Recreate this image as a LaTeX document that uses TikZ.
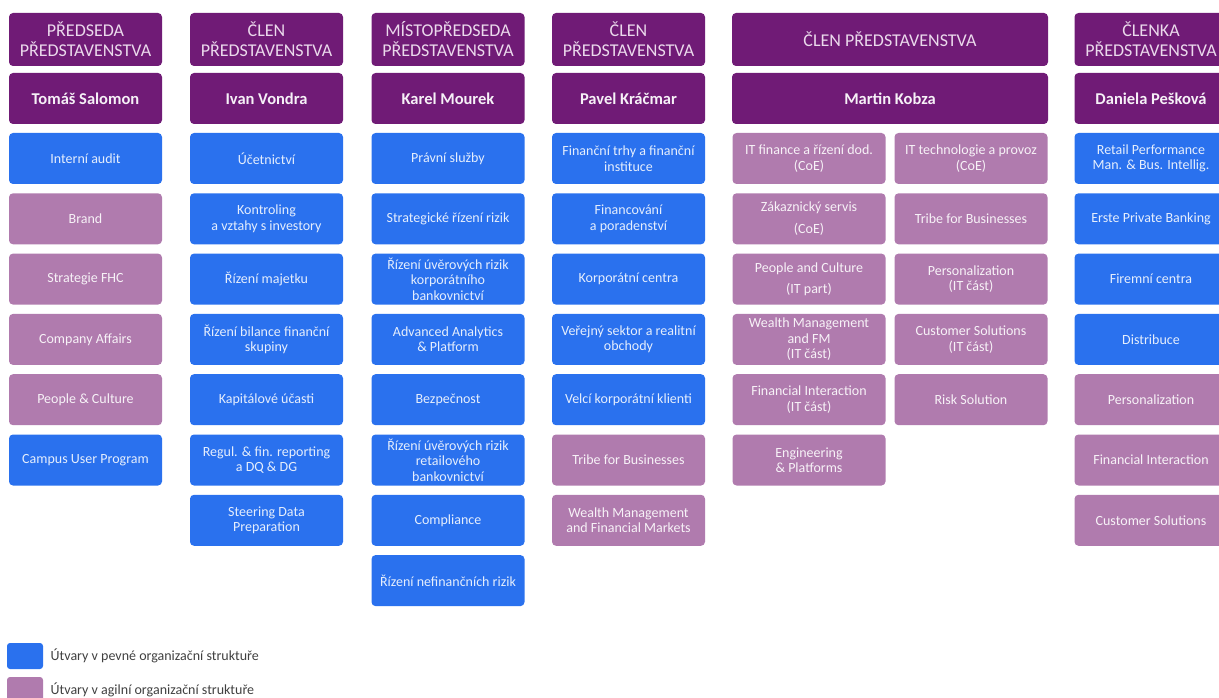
\documentclass[tikz,border=0pt]{standalone}
\usepackage{fontspec}
\setmainfont{Carlito}
\usetikzlibrary{positioning}
\definecolor{boardpurple}{RGB}{112,27,118}
\definecolor{fixblue}{RGB}{42,113,238}
\definecolor{agilemauve}{RGB}{176,123,174}
\definecolor{headtext}{RGB}{235,217,236}
\definecolor{legendgray}{RGB}{64,64,64}

\begin{document}
\begin{tikzpicture}[x=1pt,y=-1pt,
	unitbox/.style={rounded corners=4pt, inner sep=0pt, minimum width=153pt,
		minimum height=51pt, align=center, font=\fontsize{14}{15.5}\selectfont},
	fixed/.style={unitbox, fill=fixblue, text=white!88!fixblue},
	agile/.style={unitbox, fill=agilemauve, text=white!90!agilemauve},
	boardhead/.style={unitbox, fill=boardpurple, text=headtext, minimum height=53pt,
		font=\fontsize{18}{20}\selectfont},
	boardname/.style={unitbox, fill=boardpurple, text=white!94!boardpurple,
		font=\fontsize{16.5}{18}\selectfont\bfseries},
	legendkey/.style={rounded corners=3pt, minimum width=36pt, minimum height=26pt, inner sep=0pt}]
	\path[use as bounding box, clip] (0,0) rectangle (1219,698);
	
	% board members
	\node[boardhead] (ha) at (85.5,39.5) {PŘEDSEDA\\PŘEDSTAVENSTVA};
	\node[boardhead] (hb) at (266.5,39.5) {ČLEN\\PŘEDSTAVENSTVA};
	\node[boardhead] (hc) at (448,39.5) {MÍSTOPŘEDSEDA\\PŘEDSTAVENSTVA};
	\node[boardhead] (hd) at (628.5,39.5) {ČLEN\\PŘEDSTAVENSTVA};
	\node[boardhead, minimum width=316pt] (he) at (890,39.5) {ČLEN PŘEDSTAVENSTVA};
	\node[boardhead] (hf) at (1151,39.5) {ČLENKA\\PŘEDSTAVENSTVA};
	\node[boardname] (na) at (85.5,98.5) {Tomáš Salomon};
	\node[boardname] (nb) at (266.5,98.5) {Ivan Vondra};
	\node[boardname] (nc) at (448,98.5) {Karel Mourek};
	\node[boardname] (nd) at (628.5,98.5) {Pavel Kráčmar};
	\node[boardname, minimum width=316pt] (ne) at (890,98.5) {Martin Kobza};
	\node[boardname] (nf) at (1151,98.5) {Daniela Pešková};
	
	% units
	\foreach \s/\t [count=\i] in {fixed/Interní audit, agile/Brand, agile/Strategie FHC,
		agile/Company Affairs, agile/People \& Culture, fixed/Campus User Program}
		\node[\s] (a\i) at (85.5,{158.5+60.3*(\i-1)}) {\t};
	\foreach \t [count=\i] in {Účetnictví, {Kontroling\\a vztahy s investory}, Řízení majetku,
		{Řízení bilance finanční\\skupiny}, Kapitálové účasti,
		{Regul. \& fin. reporting\\a DQ \& DG}, {Steering Data\\Preparation}}
		\node[fixed] (b\i) at (266.5,{158.5+60.3*(\i-1)}) {\t};
	\foreach \t [count=\i] in {Právní služby, Strategické řízení rizik,
		{Řízení úvěrových rizik\\korporátního\\bankovnictví}, {Advanced Analytics\\\& Platform},
		Bezpečnost, {Řízení úvěrových rizik\\retailového\\bankovnictví}, Compliance,
		Řízení nefinančních rizik}
		\node[fixed] (c\i) at (448,{158.5+60.3*(\i-1)}) {\t};
	\foreach \s/\t [count=\i] in {fixed/{Finanční trhy a finanční\\instituce},
		fixed/{Financování\\a poradenství}, fixed/Korporátní centra,
		fixed/{Veřejný sektor a realitní\\obchody}, fixed/Velcí korporátní klienti,
		agile/Tribe for Businesses, agile/{Wealth Management\\and Financial Markets}}
		\node[\s] (d\i) at (628.5,{158.5+60.3*(\i-1)}) {\t};
	\foreach \t [count=\i] in {{IT finance a řízení dod.\\(CoE)}, {Zákaznický servis\\[6pt](CoE)},
		{People and Culture\\[6pt](IT part)}, {Wealth Management\\and FM\\(IT část)},
		{Financial Interaction\\(IT část)}, {Engineering\\\& Platforms}}
		\node[agile] (el\i) at (809,{158.5+60.3*(\i-1)}) {\t};
	\foreach \t [count=\i] in {{IT technologie a provoz\\(CoE)}, Tribe for Businesses,
		{Personalization\\(IT část)}, {Customer Solutions\\(IT část)}, Risk Solution}
		\node[agile] (er\i) at (971,{158.5+60.3*(\i-1)}) {\t};
	\foreach \s/\t [count=\i] in {fixed/{Retail Performance\\Man. \& Bus. Intellig.},
		fixed/Erste Private Banking, fixed/Firemní centra, fixed/Distribuce,
		agile/Personalization, agile/Financial Interaction, agile/Customer Solutions}
		\node[\s] (f\i) at (1151,{158.5+60.3*(\i-1)}) {\t};
	
	% legend
	\node[legendkey, fill=fixblue] (kfix) at (25,656) {};
	\node[legendkey, fill=agilemauve] (kagile) at (25,690) {};
	\node[right=4pt of kfix, text=legendgray, font=\fontsize{14}{16}\selectfont] (lfix)
		{Útvary v pevné organizační struktuře};
	\node[right=4pt of kagile, text=legendgray, font=\fontsize{14}{16}\selectfont] (lagile)
		{Útvary v agilní organizační struktuře};
\end{tikzpicture}
\end{document}
